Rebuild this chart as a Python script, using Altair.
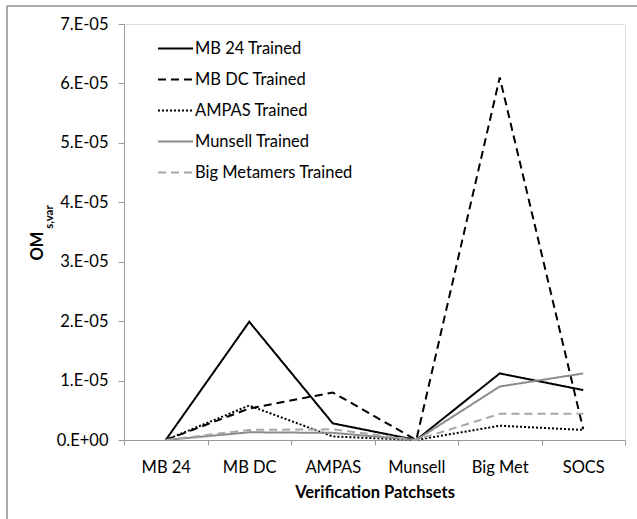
import altair as alt
import pandas as pd

categories = ["MB 24", "MB DC", "AMPAS", "Munsell", "Big Met", "SOCS"]
series_names = ["MB 24 Trained", "MB DC Trained", "AMPAS Trained", "Munsell Trained", "Big Metamers Trained"]
mb24_trained = [0.0, 1.99e-05, 0.28e-05, 0.0, 1.12e-05, 0.84e-05]
mbdc_trained = [0.0, 0.53e-05, 0.80e-05, 0.0, 6.10e-05, 0.18e-05]
ampas_trained = [0.0, 0.58e-05, 0.06e-05, 0.0, 0.24e-05, 0.17e-05]
munsell_trained = [0.0, 0.13e-05, 0.12e-05, 0.0, 0.90e-05, 1.12e-05]
bigmet_trained = [0.0, 0.17e-05, 0.18e-05, 0.0, 0.44e-05, 0.44e-05]
y_ticks = [0, 1e-05, 2e-05, 3e-05, 4e-05, 5e-05, 6e-05, 7e-05]

series_values = [mb24_trained, mbdc_trained, ampas_trained, munsell_trained, bigmet_trained]
colors = ["#000000", "#000000", "#000000", "#8c8c8c", "#a6a6a6"]
dashes = [[1, 0], [8, 5], [2, 2], [1, 0], [8, 5]]

rows = []
for name, vals in zip(series_names, series_values):
    for c, v in zip(categories, vals):
        rows.append({"series": name, "cat": c, "value": v})
df = pd.DataFrame(rows)

FONT = "Lato"
FS = 16.5

legend_cfg = dict(title=None, orient="none", legendX=33, legendY=6,
                  symbolType="stroke", symbolSize=1225, symbolStrokeWidth=2,
                  labelFontSize=FS, rowPadding=4, labelOffset=1)

lines = alt.Chart(df).mark_line(strokeWidth=2).encode(
    x=alt.X("cat:N", sort=categories, bandPosition=0.5,
            scale=alt.Scale(type="band", paddingInner=0, paddingOuter=0),
            axis=alt.Axis(title="Verification Patchsets", labelAngle=0, tickBand="extent",
                          tickSize=5, labelPadding=14, titlePadding=9,
                          titleFontWeight="bold", titleFontSize=FS, labelFontSize=FS,
                          domainColor="#9a9a9a", tickColor="#9a9a9a")),
    y=alt.Y("value:Q", scale=alt.Scale(domain=[0, 7e-05], nice=False),
            axis=alt.Axis(title=None, values=y_ticks, tickSize=6, labelPadding=10, grid=False,
                          labelExpr="datum.value == 0 ? '0.E+00' : round(datum.value*1e5) + '.E-05'",
                          labelFontSize=FS, domainColor="#9a9a9a", tickColor="#9a9a9a")),
    color=alt.Color("series:N", sort=series_names,
                    scale=alt.Scale(domain=series_names, range=colors),
                    legend=alt.Legend(**legend_cfg)),
    strokeDash=alt.StrokeDash("series:N", sort=series_names,
                              scale=alt.Scale(domain=series_names, range=dashes),
                              legend=alt.Legend(**legend_cfg)),
    order=alt.Order("series:N", sort="ascending"),
)

frame_df = pd.DataFrame({"k": [1]})
frame_left = alt.Chart(frame_df).mark_rule(color="#8c8c8c", strokeWidth=1.5).encode(
    x=alt.value(-117), y=alt.value(-18), y2=alt.value(500))
frame_top = alt.Chart(frame_df).mark_rule(color="#8c8c8c", strokeWidth=1.5).encode(
    x=alt.value(-117), x2=alt.value(520), y=alt.value(-18))

om_df = pd.DataFrame({"t": ["OM"]})
sub_df = pd.DataFrame({"t": ["s,var"]})
om_text = alt.Chart(om_df).mark_text(angle=270, fontWeight="bold", fontSize=FS, font=FONT,
                                     align="center", baseline="middle").encode(
    text="t:N", x=alt.value(-86), y=alt.value(222))
sub_text = alt.Chart(sub_df).mark_text(angle=270, fontWeight="bold", fontSize=11.5, font=FONT,
                                       align="center", baseline="middle").encode(
    text="t:N", x=alt.value(-74), y=alt.value(193))

chart = alt.layer(frame_left, frame_top, lines, om_text, sub_text).properties(
    width=501, height=416,
    autosize=alt.AutoSizeParams(type="none"),
    padding={"left": 124, "top": 24, "right": 12, "bottom": 79},
).configure_view(stroke=None).configure(font=FONT).configure_axis(
    labelFont=FONT, titleFont=FONT, labelColor="#000000", titleColor="#000000"
).configure_legend(labelFont=FONT, labelColor="#000000")

chart.save("out.html", embed_options={"renderer": "svg", "actions": False})
